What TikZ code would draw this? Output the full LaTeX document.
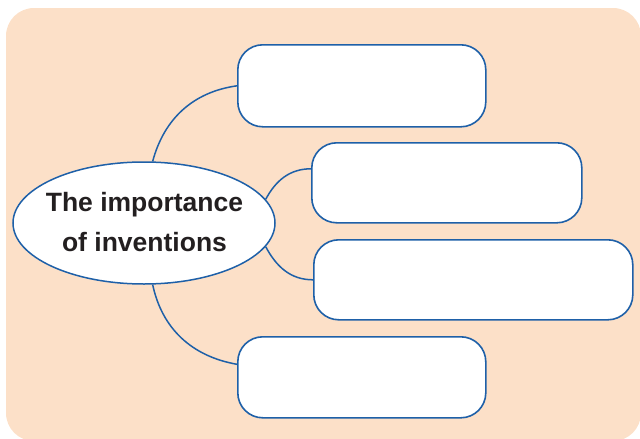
\documentclass[tikz,border=0pt]{standalone}
\usepackage{fontspec}
\setmainfont{Liberation Sans}
\usetikzlibrary{shapes.geometric}
\definecolor{peach}{RGB}{252,224,200}
\definecolor{lineblue}{RGB}{30,96,168}
\definecolor{inkblack}{RGB}{35,31,32}
\tikzset{
  box/.style={draw=lineblue, line width=1.6pt, fill=white, rounded corners=25pt, anchor=north west, inner sep=0pt},
  centre/.style={ellipse, draw=lineblue, line width=1.5pt, fill=white, minimum width=262pt, minimum height=122pt, inner sep=0pt},
  centretext/.style={align=center, text=inkblack, inner sep=0pt, font=\bfseries\fontsize{26.5}{40}\selectfont},
  link/.style={draw=lineblue, line width=1.5pt}
}
\begin{document}
\begin{tikzpicture}[x=1pt,y=-1pt]
\useasboundingbox (0,0) rectangle (640,439);
\fill[peach, rounded corners=28pt] (6,8) rectangle (641,441);
\node[box, minimum width=248pt, minimum height=82pt] (b1) at (237,44) {};
\node[box, minimum width=270pt, minimum height=80pt] (b2) at (311,142) {};
\node[box, minimum width=319pt, minimum height=80pt] (b3) at (313,239) {};
\node[box, minimum width=248pt, minimum height=81pt] (b4) at (237,336) {};
\node[centre] (e) at (144,223) {};
\node[centretext] (t) at (144.5,222) {The importance\\of inventions};
\draw[link] (e.82) to[out=75,in=188] (b1.west);
\draw[link] (e.11) to[out=62,in=180] ([yshift=14pt]b2.west);
\draw[link] (e.-11) to[out=-62,in=180] (b3.west);
\draw[link] (e.-82) to[out=-78,in=170] ([yshift=13pt]b4.west);
\end{tikzpicture}
\end{document}
